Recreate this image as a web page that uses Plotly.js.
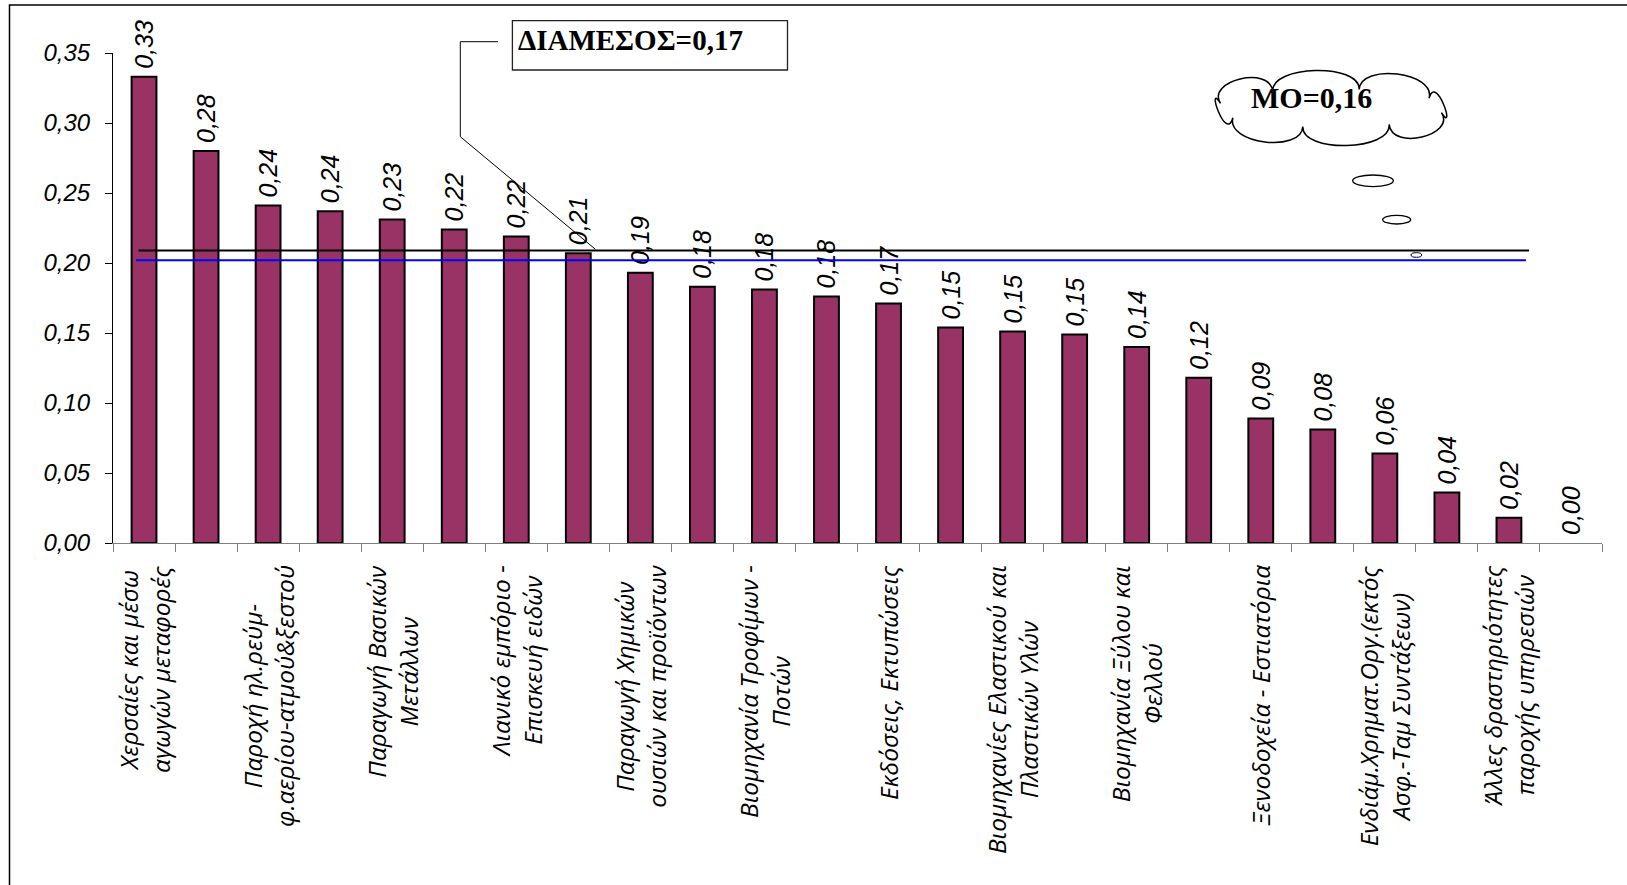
<!DOCTYPE html>
<html>
<head>
<meta charset="utf-8">
<script src="https://cdn.plot.ly/plotly-3.0.1.min.js"></script>
<style>html,body{margin:0;padding:0;background:#fff;}#chart{width:1627px;height:885px;}</style>
</head>
<body>
<div id="chart"></div>
<script>
// ---- data ----
const ranks = [1,2,3,4,5,6,7,8,9,10,11,12,13,14,15,16,17,18,19,20,21,22,23,24];
const values = [0.333,0.280,0.241,0.237,0.231,0.224,0.219,0.207,0.193,0.183,0.181,0.176,
                0.171,0.154,0.151,0.149,0.140,0.118,0.089,0.081,0.064,0.036,0.018,0.000];
const labelRanks = [1,3,5,7,9,11,13,15,17,19,21,23];
const sectorLabels = [
  "Χερσαίες και μέσω<br>αγωγών μεταφορές",
  "Παροχή ηλ.ρεύμ-<br>φ.αερίου-ατμού&amp;ξεστού",
  "Παραγωγή Βασικών<br>Μετάλλων",
  "Λιανικό εμπόριο -<br>Επισκευή ειδών",
  "Παραγωγή Χημικών<br>ουσιών και προϊόντων",
  "Βιομηχανία Τροφίμων -<br>Ποτών",
  "Εκδόσεις, Εκτυπώσεις",
  "Βιομηχανίες Ελαστικού και<br>Πλαστικών Υλών",
  "Βιομηχανία Ξύλου και<br>Φελλού",
  "Ξενοδοχεία - Εστιατόρια",
  "Ενδιάμ.Χρηματ.Οργ.(εκτός<br>Ασφ.-Ταμ Συντάξεων)",
  "Άλλες δραστηριότητες<br>παροχής υπηρεσιών"
];
const medianLineY = 0.209;
const meanLineY = 0.202;
const medianText = "ΔΙΑΜΕΣΟΣ=0,17";
const meanText = "ΜΟ=0,16";

// ---- helpers: page pixel -> paper fraction ----
const L = 113, R = 1602, T = 53, B = 543;
const fx = p => (p - L) / (R - L);
const fy = p => (B - p) / (B - T);

const valueText = values.map(v => '\u2009' + v.toFixed(2).replace('.', ','));

const traces = [{
  type: 'bar',
  x: ranks,
  y: values,
  width: 0.4,
  marker: {color: '#993366', line: {color: '#000', width: values.map(v => v > 0 ? 2 : 0)}},
  text: valueText,
  textposition: 'outside',
  textangle: -90,
  constraintext: 'none',
  cliponaxis: false,
  textfont: {family: 'Liberation Sans, Arial, sans-serif', size: 25, style: 'italic', color: '#000'},
  hoverinfo: 'skip'
}];

// cloud path
function cloudPath(cx, cy, rx, ry, n, b, off) {
  const pts = [];
  for (let i = 0; i <= n; i++) {
    const t = 2 * Math.PI * i / n + off;
    const x = cx + rx * Math.cos(t), y = cy + ry * Math.sin(t);
    let nx = Math.cos(t) / rx, ny = Math.sin(t) / ry;
    const m = Math.hypot(nx, ny); nx /= m; ny /= m;
    pts.push({x, y, nx, ny});
  }
  let d = `M${fx(pts[0].x)},${fy(pts[0].y)}`;
  for (let i = 0; i < n; i++) {
    const a = pts[i], c = pts[i + 1];
    d += ` C${fx(a.x + b * a.nx)},${fy(a.y + b * a.ny)} ${fx(c.x + b * c.nx)},${fy(c.y + b * c.ny)} ${fx(c.x)},${fy(c.y)}`;
  }
  return d + ' Z';
}

const shapes = [
  // frame
  {type: 'rect', xref: 'paper', yref: 'paper', x0: fx(9.5), x1: fx(1660), y0: fy(5), y1: fy(920),
   line: {color: '#000', width: 1.5}, fillcolor: 'rgba(0,0,0,0)', layer: 'below'},
  // median/mean lines
  {type: 'line', xref: 'paper', yref: 'y', x0: fx(138.5), x1: fx(1529), y0: medianLineY, y1: medianLineY,
   line: {color: '#000', width: 2}},
  {type: 'line', xref: 'paper', yref: 'y', x0: fx(136), x1: fx(1526), y0: meanLineY, y1: meanLineY,
   line: {color: '#0000ff', width: 2}},
  // median callout box
  {type: 'rect', xref: 'paper', yref: 'paper', x0: fx(512.4), x1: fx(787.5), y0: fy(20.7), y1: fy(70),
   line: {color: '#222', width: 1.3}, fillcolor: '#fff'},
  // leader line
  {type: 'path', xref: 'paper', yref: 'paper',
   path: `M${fx(498)},${fy(41.7)} L${fx(460.3)},${fy(41.7)} L${fx(460.3)},${fy(136.7)} L${fx(595.4)},${fy(249.3)}`,
   line: {color: '#000', width: 1}},
  // cloud
  {type: 'path', xref: 'paper', yref: 'paper', path: cloudPath(1331, 108, 114, 19, 8, 27, 0.25),
   line: {color: '#000', width: 1.5}, fillcolor: '#fff'},
  {type: 'circle', xref: 'paper', yref: 'paper', x0: fx(1352.7), x1: fx(1393.3), y0: fy(175), y1: fy(186.7),
   line: {color: '#000', width: 1.3}, fillcolor: '#fff'},
  {type: 'circle', xref: 'paper', yref: 'paper', x0: fx(1382.7), x1: fx(1410.7), y0: fy(215.3), y1: fy(224),
   line: {color: '#000', width: 1.3}, fillcolor: '#fff'},
  {type: 'circle', xref: 'paper', yref: 'paper', x0: fx(1411), x1: fx(1421.7), y0: fy(252.7), y1: fy(257.3),
   line: {color: '#000', width: 1}, fillcolor: '#fff'}
];

const annotations = [
  {xref: 'paper', yref: 'paper', x: fx(516), y: fy(39.5), xanchor: 'left', yanchor: 'middle',
   text: '<b>' + medianText + '</b>', showarrow: false,
   font: {family: 'Liberation Serif, Times New Roman, serif', size: 29, color: '#000'}},
  {xref: 'paper', yref: 'paper', x: fx(1248.5), y: fy(97.3), xanchor: 'left', yanchor: 'middle',
   text: '<b>' + meanText + '</b>', showarrow: false,
   font: {family: 'Liberation Serif, Times New Roman, serif', size: 30, color: '#000'}}
];
labelRanks.forEach((r, i) => {
  annotations.push({
    xref: 'x', yref: 'paper', x: r, y: fy(563), xanchor: 'center', yanchor: 'top',
    text: sectorLabels[i], textangle: -90, align: 'center', showarrow: false,
    font: {family: 'Open Sans, Noto Sans, sans-serif', size: 24.5, style: 'italic', color: '#000'}
  });
});

const layout = {
  width: 1627, height: 885,
  margin: {l: L, r: 1627 - R, t: T, b: 885 - B, autoexpand: false},
  paper_bgcolor: '#fff', plot_bgcolor: '#fff',
  separators: ',.',
  showlegend: false,
  xaxis: {range: [0.5, 24.5], tick0: 0.5, dtick: 1, ticks: 'outside', ticklen: 8, tickwidth: 1,
          tickcolor: '#7f7f7f', showline: true, linecolor: '#7f7f7f', linewidth: 1,
          showgrid: false, zeroline: false, showticklabels: false, fixedrange: true},
  xaxis2: {overlaying: 'x', anchor: 'y', range: [0.5, 24.5], tick0: 0.5, dtick: 1, ticks: 'inside',
           ticklen: 7, tickwidth: 1, tickcolor: '#7f7f7f', showline: false, showgrid: false,
           zeroline: false, showticklabels: false},
  yaxis: {range: [0, 0.35], tick0: 0, dtick: 0.05, tickformat: '.2f', ticks: 'outside', ticklen: 7,
          tickcolor: '#000', tickwidth: 1, showline: true, linecolor: '#000', linewidth: 1,
          showgrid: false, zeroline: false, ticklabelstandoff: 10, fixedrange: true,
          tickfont: {family: 'Liberation Sans, Arial, sans-serif', size: 24, style: 'italic', color: '#000'}},
  yaxis2: {overlaying: 'y', anchor: 'x', side: 'left', range: [0, 0.35], tick0: 0, dtick: 0.05,
           ticks: 'inside', ticklen: 7, tickcolor: '#000', tickwidth: 1, showline: false,
           showgrid: false, zeroline: false, showticklabels: false},
  shapes: shapes,
  annotations: annotations
};

Plotly.newPlot('chart', traces, layout, {displayModeBar: false, staticPlot: true});
</script>
</body>
</html>
